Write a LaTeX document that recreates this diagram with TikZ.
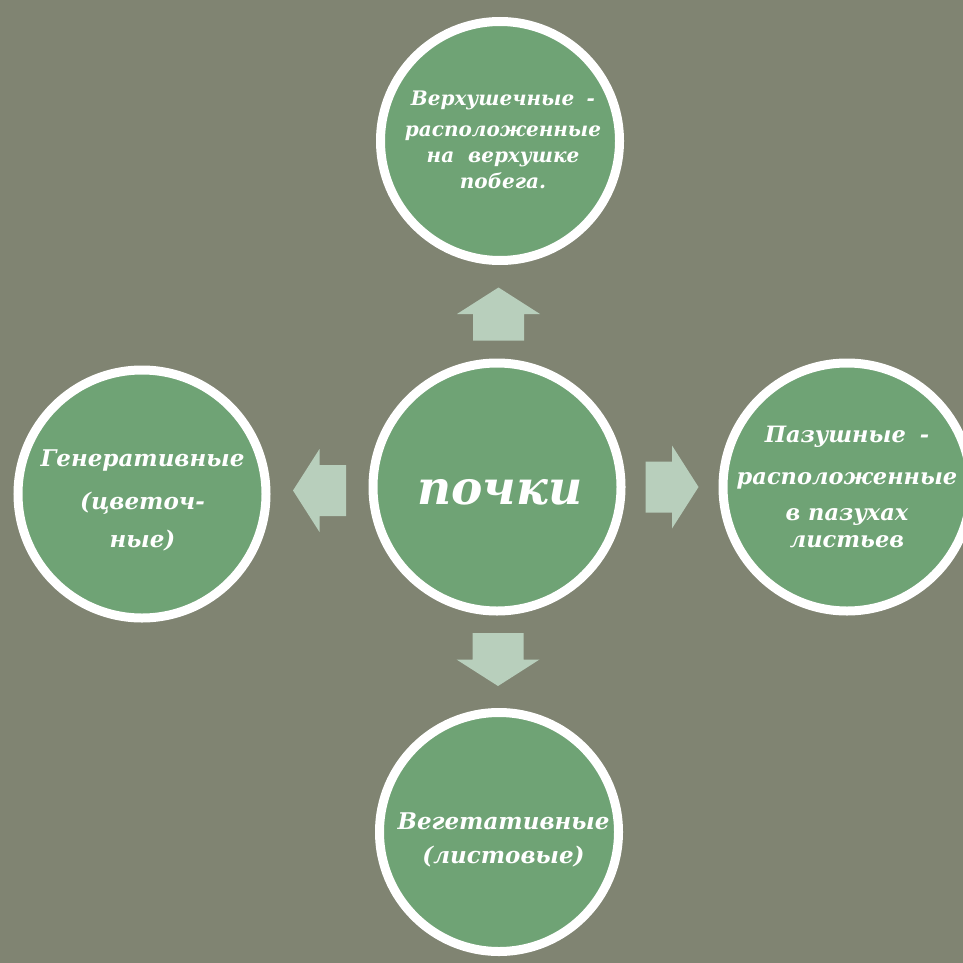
\documentclass[tikz,border=0pt]{standalone}
\usepackage{fontspec}
\setmainfont{DejaVu Serif}
\usetikzlibrary{calc}

\definecolor{bgolive}{RGB}{128,132,114}
\definecolor{budgreen}{RGB}{111,163,117}
\definecolor{arrowmint}{RGB}{184,207,188}

\tikzset{
  bud/.style={circle, draw=white, line width=9pt, fill=budgreen, inner sep=0pt},
  budtext/.style={text=white, align=center, inner sep=0pt},
  blockarrow/.pic={
    \fill[arrowmint] (-26.5,-25.5) -- (0,-25.5) -- (0,-41.5) -- (26.5,0)
      -- (0,41.5) -- (0,25.5) -- (-26.5,25.5) -- cycle;
  }
}
\newcommand{\budfont}[2]{\fontsize{#1}{#2}\selectfont\bfseries\itshape}

\begin{document}
\begin{tikzpicture}[x=1pt,y=-1pt]
\fill[bgolive] (0,0) rectangle (963,963);
\useasboundingbox (0,0) rectangle (963,963);

% circles
\node[bud, minimum size=248pt] (buds) at (497,487) {};
\node[bud, minimum size=239pt] (apical) at (500,141) {};
\node[bud, minimum size=248pt] (axillary) at (847,487) {};
\node[bud, minimum size=239pt] (vegetative) at (499,832) {};
\node[bud, minimum size=248pt] (generative) at (142,494) {};

% block arrows
\pic[rotate=90] (upArrow) at ($(buds)!0.5!(apical)$) {blockarrow};
\pic (rightArrow) at ($(buds)!0.5!(axillary)$) {blockarrow};
\pic[rotate=-90] (downArrow) at ($(buds)!0.5!(vegetative)$) {blockarrow};
\pic[rotate=180] (leftArrow) at ($(buds)!0.5!(generative)$) {blockarrow};

% texts
\node[budtext, font=\budfont{47}{56}] (budsText) at (500,492) {почки};
\node[budtext, font=\budfont{20}{26}] (apicalText) at (503,140)
  {Верхушечные \;-\\[5pt] расположенные\\ на \ верхушке\\ побега.};
\node[budtext, font=\budfont{22.5}{36}] (axillaryText) at (847,487)
  {Пазушные \;-\\[6pt] расположенные\\ в пазухах\\[-9pt] листьев};
\node[budtext, font=\budfont{23}{38}] (generativeText) at (142.5,500)
  {Генеративные\\[5pt] (цветоч-\\ ные)};
\node[budtext, font=\budfont{23}{34}] (vegetativeText) at (503.5,840)
  {Вегетативные\\ (листовые)};
\end{tikzpicture}
\end{document}
